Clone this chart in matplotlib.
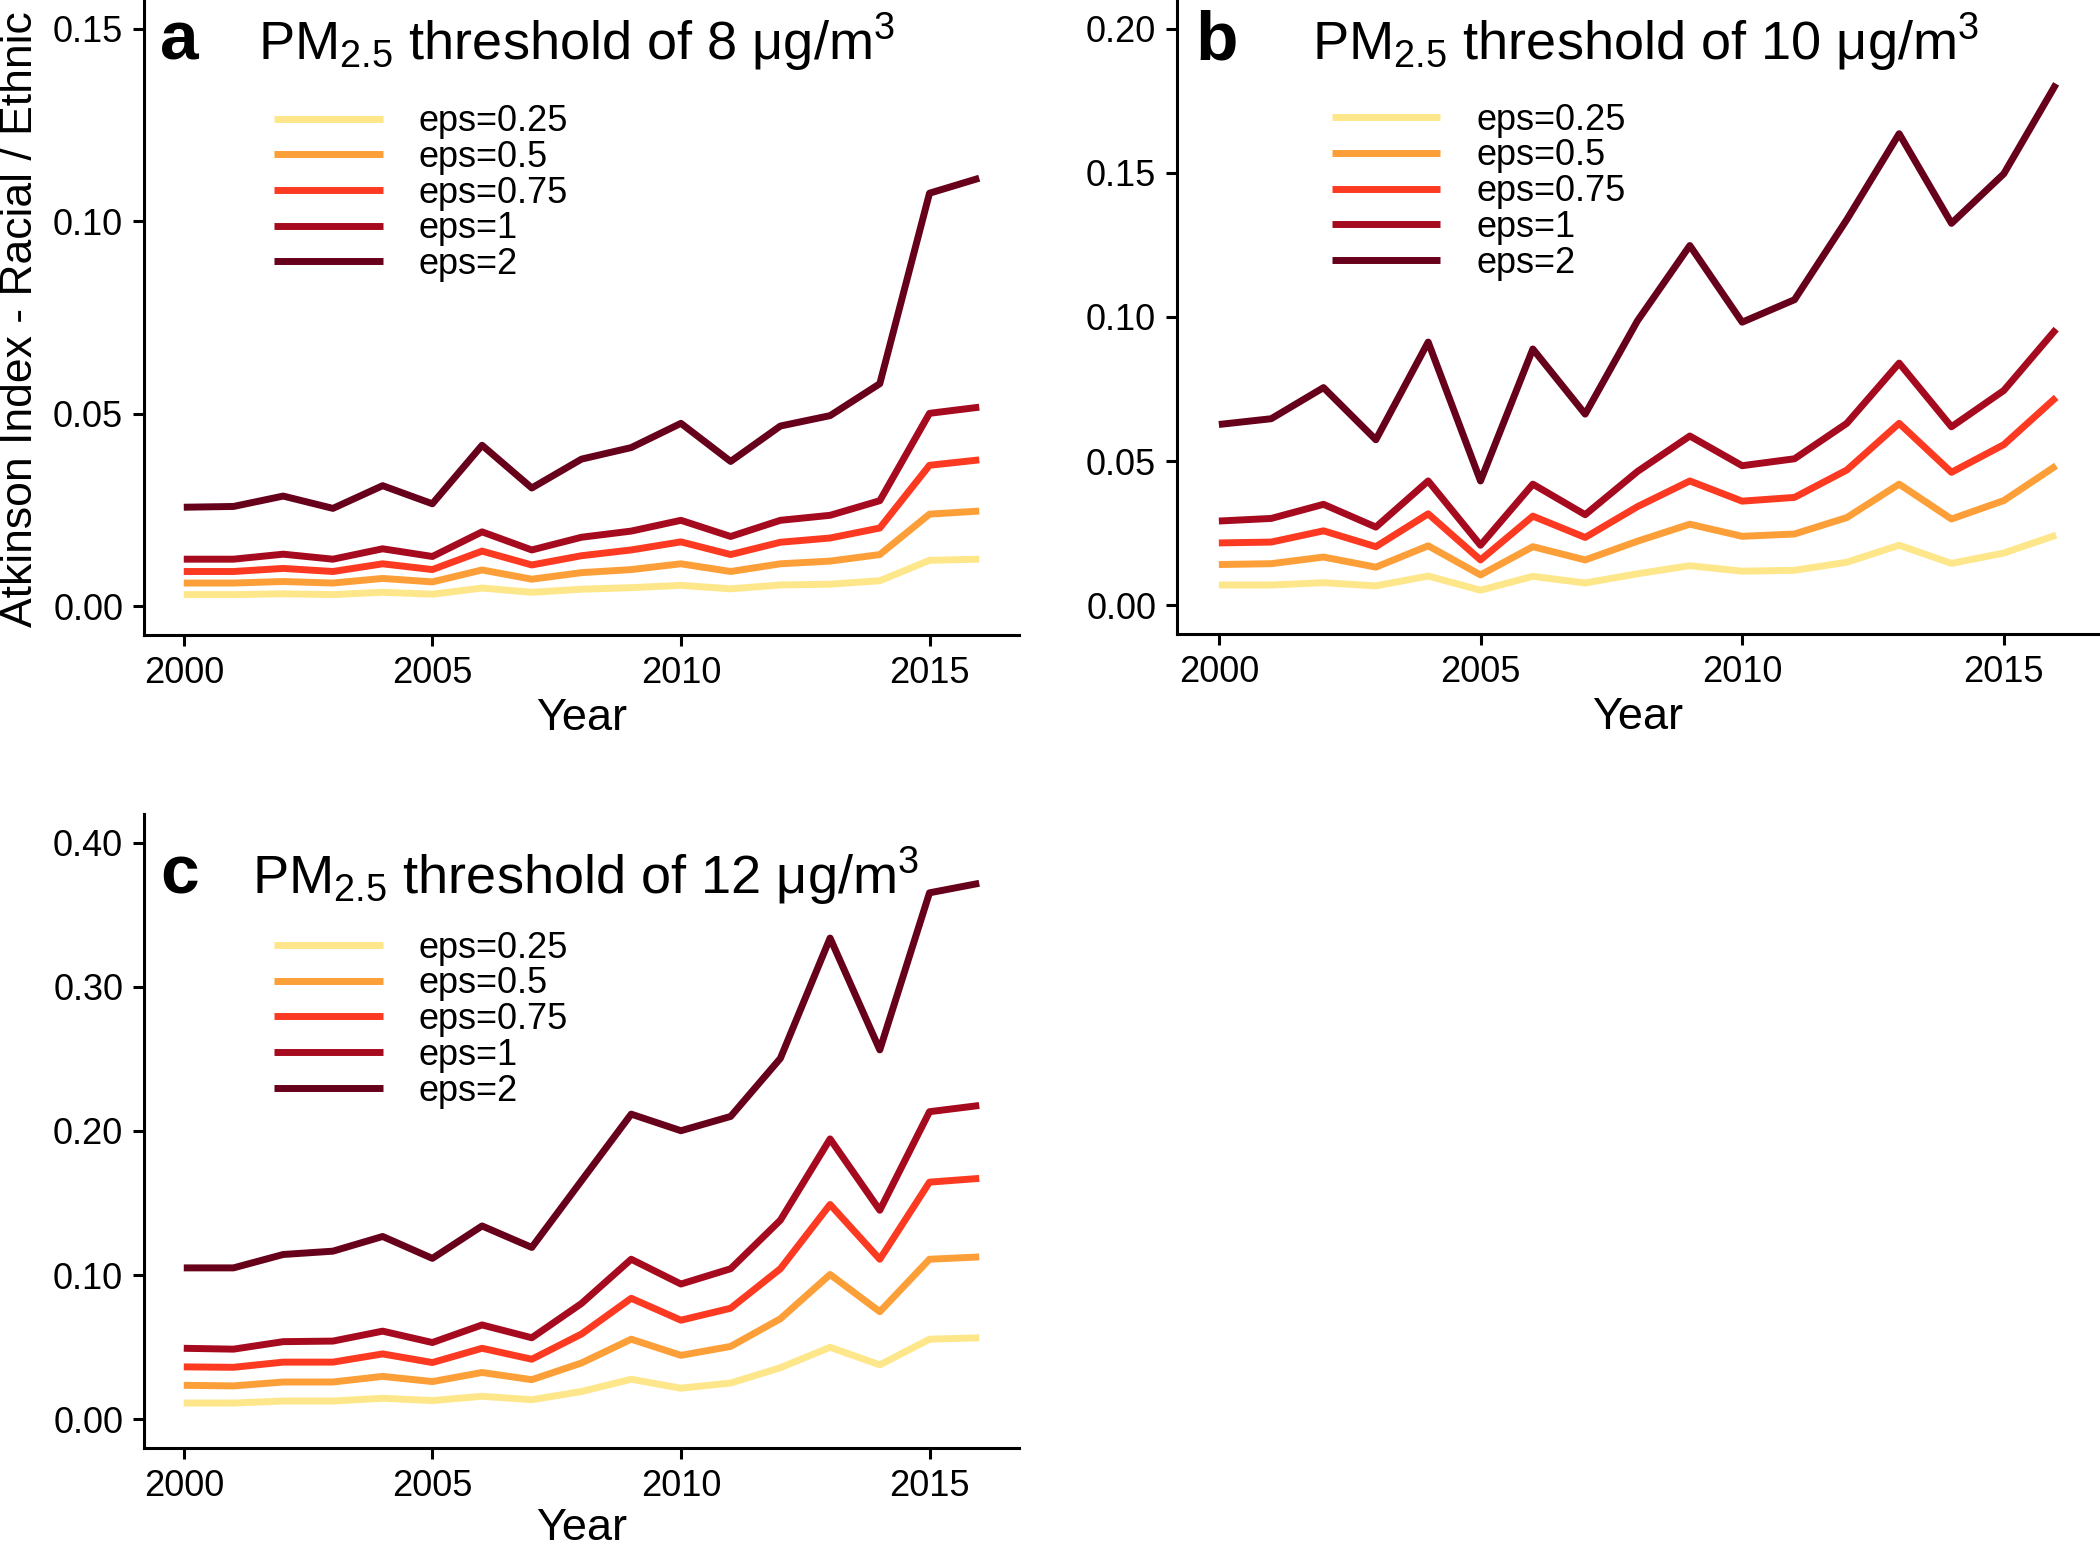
import numpy as np
import matplotlib
matplotlib.use("Agg")
import matplotlib.pyplot as plt
from matplotlib.ticker import FormatStrFormatter, MultipleLocator

plt.rcParams['font.family'] = ['Liberation Sans', 'DejaVu Sans']
plt.rcParams['mathtext.fontset'] = 'custom'
plt.rcParams['mathtext.rm'] = 'Liberation Sans'
plt.rcParams['mathtext.it'] = 'Liberation Sans:italic'
plt.rcParams['mathtext.default'] = 'regular'

years = np.arange(2000, 2017)
eps_labels = ['eps=0.25', 'eps=0.5', 'eps=0.75', 'eps=1', 'eps=2']
colors = ['#FEE78A', '#FD9F38', '#FC3A22', '#A60A1E', '#67001A']

# threshold 8 ug/m3
a_025 = [0.0030, 0.0030, 0.0032, 0.0030, 0.0036, 0.0031, 0.0047, 0.0036, 0.0044,
         0.0048, 0.0054, 0.0045, 0.0055, 0.0057, 0.0066, 0.0119, 0.0122]
a_05 = [0.0060, 0.0060, 0.0064, 0.0060, 0.0072, 0.0063, 0.0094, 0.0070, 0.0087,
        0.0095, 0.0110, 0.0090, 0.0110, 0.0117, 0.0134, 0.0239, 0.0247]
a_075 = [0.0090, 0.0090, 0.0098, 0.0090, 0.0110, 0.0095, 0.0143, 0.0107, 0.0131,
         0.0146, 0.0167, 0.0134, 0.0166, 0.0177, 0.0203, 0.0366, 0.0380]
a_1 = [0.0122, 0.0122, 0.0135, 0.0122, 0.0149, 0.0129, 0.0193, 0.0146, 0.0179,
       0.0195, 0.0223, 0.0181, 0.0223, 0.0236, 0.0274, 0.0501, 0.0517]
a_2 = [0.0257, 0.0259, 0.0286, 0.0254, 0.0313, 0.0266, 0.0418, 0.0307, 0.0382,
       0.0412, 0.0475, 0.0376, 0.0468, 0.0495, 0.0578, 0.1073, 0.1112]

# threshold 10 ug/m3
b_025 = [0.0070, 0.0070, 0.0078, 0.0067, 0.0101, 0.0052, 0.0100, 0.0077, 0.0109,
         0.0137, 0.0118, 0.0121, 0.0149, 0.0208, 0.0145, 0.0181, 0.0243]
b_05 = [0.0141, 0.0144, 0.0167, 0.0132, 0.0206, 0.0105, 0.0203, 0.0157, 0.0222,
        0.0281, 0.0239, 0.0247, 0.0304, 0.0420, 0.0299, 0.0363, 0.0484]
b_075 = [0.0216, 0.0219, 0.0258, 0.0203, 0.0317, 0.0157, 0.0309, 0.0235, 0.0342,
         0.0431, 0.0361, 0.0374, 0.0469, 0.0631, 0.0461, 0.0557, 0.0721]
b_1 = [0.0292, 0.0301, 0.0350, 0.0271, 0.0431, 0.0208, 0.0420, 0.0314, 0.0464,
       0.0587, 0.0484, 0.0508, 0.0631, 0.0840, 0.0619, 0.0745, 0.0958]
b_2 = [0.0627, 0.0647, 0.0755, 0.0574, 0.0913, 0.0431, 0.0889, 0.0663, 0.0987,
       0.1248, 0.0982, 0.1060, 0.1338, 0.1636, 0.1325, 0.1497, 0.1809]

# threshold 12 ug/m3
c_025 = [0.0112, 0.0112, 0.0126, 0.0126, 0.0145, 0.0129, 0.0159, 0.0135, 0.0192,
         0.0277, 0.0215, 0.0251, 0.0357, 0.0499, 0.0377, 0.0555, 0.0565]
c_05 = [0.0235, 0.0231, 0.0258, 0.0258, 0.0297, 0.0261, 0.0324, 0.0274, 0.0390,
        0.0555, 0.0443, 0.0505, 0.0697, 0.1004, 0.0746, 0.1110, 0.1126]
c_075 = [0.0363, 0.0360, 0.0396, 0.0396, 0.0453, 0.0393, 0.0492, 0.0416, 0.0591,
         0.0839, 0.0687, 0.0770, 0.1044, 0.1490, 0.1110, 0.1645, 0.1671]
c_1 = [0.0492, 0.0486, 0.0538, 0.0542, 0.0611, 0.0532, 0.0654, 0.0565, 0.0803,
       0.1110, 0.0938, 0.1044, 0.1381, 0.1945, 0.1450, 0.2134, 0.2177]
c_2 = [0.1050, 0.1050, 0.1143, 0.1166, 0.1268, 0.1116, 0.1341, 0.1192, 0.1655,
       0.2117, 0.2002, 0.2101, 0.2504, 0.3339, 0.2563, 0.3653, 0.3719]

W, H = 2100, 1547
fig = plt.figure(figsize=(W / 100, H / 100), dpi=100)


def px_axes(left, top, right, bottom):
    return fig.add_axes([left / W, 1 - bottom / H, (right - left) / W, (bottom - top) / H])


def panel(ax, series, ymax, ystep, leg_xy, xpad):
    for s, c, lab in zip(series, colors, eps_labels):
        ax.plot(years, s, color=c, lw=5, label=lab, solid_capstyle='butt')
    ax.set_xlim(1999.2, 2016.8)
    ax.set_ylim(-0.05 * ymax, 1.05 * ymax)
    ax.xaxis.set_major_locator(MultipleLocator(5))
    ax.yaxis.set_major_locator(MultipleLocator(ystep))
    ax.yaxis.set_major_formatter(FormatStrFormatter('%.2f'))
    for sp in ['top', 'right']:
        ax.spines[sp].set_visible(False)
    for sp in ['left', 'bottom']:
        ax.spines[sp].set_linewidth(2.2)
    ax.tick_params(labelsize=26, length=8, width=2.2, pad=7, colors='black')
    ax.set_xlabel('Year', fontsize=32.5, labelpad=xpad)
    ax.legend(loc='upper left', bbox_to_anchor=leg_xy, frameon=False, fontsize=26,
              handlelength=3.0, handletextpad=1.0, labelspacing=0.02, borderpad=0,
              borderaxespad=0)


ax_a = px_axes(144, 0, 1019, 635)
panel(ax_a, [a_025, a_05, a_075, a_1, a_2], 0.15, 0.05, (0.149, 0.836), 5)
ax_b = px_axes(1177, 0, 2098, 634)
panel(ax_b, [b_025, b_05, b_075, b_1, b_2], 0.20, 0.05, (0.168, 0.838), 5)
ax_c = px_axes(144, 814, 1019, 1448)
panel(ax_c, [c_025, c_05, c_075, c_1, c_2], 0.40, 0.10, (0.149, 0.816), 3)

fig.text(21 / W, 1 - 319 / H, 'Atkinson Index - Racial / Ethnic', rotation=90,
         fontsize=32, ha='center', va='center')

titles = [('a', 160, 258, 60, '8'), ('b', 1195, 1312, 60, '10'), ('c', 160, 252, 894, '12')]
for letter, lx, tx, by, thr in titles:
    fig.text(lx / W, 1 - by / H, letter, fontsize=50, fontweight='bold', va='baseline')
    fig.text(tx / W, 1 - by / H, 'PM$_{2.5}$ threshold of ' + thr + ' μg/m$^3$',
             fontsize=39, va='baseline')

fig.savefig('out.png', dpi=100)
